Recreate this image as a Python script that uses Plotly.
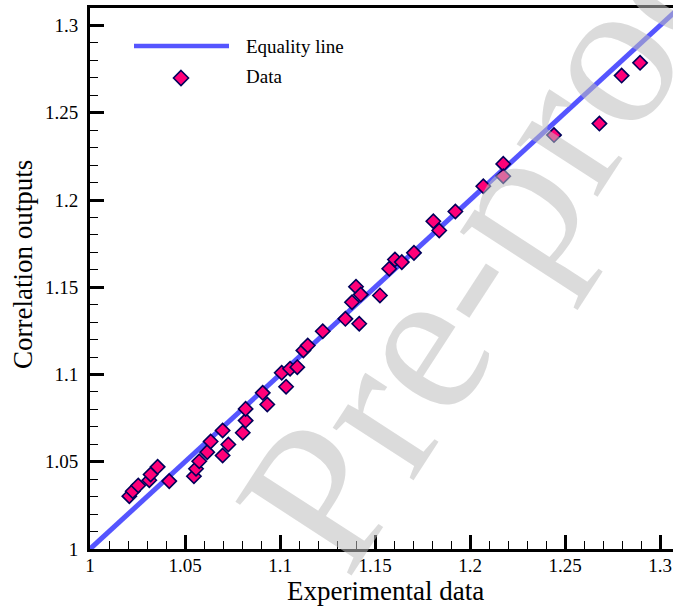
import plotly.graph_objects as go

# ---- data ----
experimental = [1.0207, 1.0225, 1.0254, 1.0312, 1.0319, 1.0356, 1.0417, 1.0547, 1.0558, 1.0575,
                1.0617, 1.0635, 1.0698, 1.0698, 1.0728, 1.0804, 1.0819, 1.0819, 1.0909, 1.0933,
                1.1032, 1.1009, 1.1053, 1.1091, 1.1123, 1.1146, 1.1225, 1.1344, 1.1417, 1.1379,
                1.1400, 1.1425, 1.1526, 1.1575, 1.1605, 1.1641, 1.1705, 1.1807, 1.1838, 1.1923,
                1.2070, 1.2175, 1.2175, 1.2442, 1.2681, 1.2798, 1.2895]
correlation = [1.0303, 1.0331, 1.0364, 1.0394, 1.0427, 1.0471, 1.0389, 1.0417, 1.0460, 1.0503,
               1.0555, 1.0616, 1.0679, 1.0536, 1.0599, 1.0666, 1.0736, 1.0803, 1.0895, 1.0828,
               1.0930, 1.1010, 1.1033, 1.1042, 1.1138, 1.1166, 1.1248, 1.1319, 1.1291, 1.1414,
               1.1503, 1.1458, 1.1453, 1.1606, 1.1659, 1.1644, 1.1697, 1.1878, 1.1825, 1.1934,
               1.2079, 1.2207, 1.2136, 1.2372, 1.2438, 1.2713, 1.2786]
equality_line = [1.0, 1.32]
tick_vals = [1.0, 1.05, 1.1, 1.15, 1.2, 1.25, 1.3]
tick_text = ["1", "1.05", "1.1", "1.15", "1.2", "1.25", "1.3"]

W, H = 673, 607
ML, MR, MT, MB = 90, 0, 8, 58
XR = [1.0, 1.0 + (W - ML - MR) / 1900.0]
YR = [1.0, 1.0 + (H - MT - MB) / 1745.0]

LINE_COLOR = "rgb(85,85,255)"
FILL = "rgb(255,0,120)"
EDGE = "rgb(0,0,90)"
FONT = "Liberation Serif"

fig = go.Figure()
fig.add_trace(go.Scatter(x=equality_line, y=equality_line, mode="lines",
                         line=dict(color=LINE_COLOR, width=5), showlegend=False,
                         hoverinfo="skip"))
fig.add_trace(go.Scatter(x=experimental, y=correlation, mode="markers",
                         marker=dict(symbol="diamond", size=11, color=FILL,
                                     line=dict(color=EDGE, width=1.6)),
                         showlegend=False))

def px2paper_x(px):
    return (px - ML) / (W - ML - MR)

def px2paper_y(py):
    return (H - MB - py) / (H - MT - MB)

axis_common = dict(
    showline=True, linecolor="black", linewidth=3,
    ticks="inside", ticklen=14, tickwidth=2.5, tickcolor="black",
    tickvals=tick_vals, ticktext=tick_text,
    tickfont=dict(family=FONT, size=19, color="black"),
    minor=dict(ticks="inside", ticklen=8, tickwidth=1.3, tickcolor="black", dtick=0.01),
    showgrid=False, zeroline=False, automargin=False,
)

fig.update_layout(
    width=W, height=H,
    margin=dict(l=ML, r=MR, t=MT, b=MB),
    paper_bgcolor="white", plot_bgcolor="white",
    xaxis=dict(range=XR, mirror=True, ticklabelstandoff=-3, **axis_common),
    yaxis=dict(range=YR, mirror=False, ticklabelstandoff=5, **axis_common),
    showlegend=False,
)

# axis titles
fig.add_annotation(x=px2paper_x(385), y=px2paper_y(591), xref="paper", yref="paper",
                   text="Experimental data", showarrow=False, xanchor="center", yanchor="middle",
                   font=dict(family=FONT, size=27, color="black"))
fig.add_annotation(x=px2paper_x(23), y=px2paper_y(265), xref="paper", yref="paper",
                   text="Correlation outputs", showarrow=False, textangle=-90,
                   xanchor="center", yanchor="middle",
                   font=dict(family=FONT, size=27, color="black"))

# manual legend
fig.add_shape(type="line", xref="paper", yref="paper",
              x0=px2paper_x(134), x1=px2paper_x(229), y0=px2paper_y(46), y1=px2paper_y(46),
              line=dict(color=LINE_COLOR, width=4.5))
fig.add_shape(type="path", xref="paper", yref="paper", xsizemode="pixel", ysizemode="pixel",
              xanchor=px2paper_x(181), yanchor=px2paper_y(78),
              path="M0,7.5 L7.5,0 L0,-7.5 L-7.5,0 Z",
              fillcolor=FILL, line=dict(color=EDGE, width=1.6))
fig.add_annotation(x=px2paper_x(244), y=px2paper_y(46), xref="paper", yref="paper",
                   text="Equality line", showarrow=False, xanchor="left", yanchor="middle",
                   font=dict(family=FONT, size=19, color="black"))
fig.add_annotation(x=px2paper_x(244), y=px2paper_y(77), xref="paper", yref="paper",
                   text="Data", showarrow=False, xanchor="left", yanchor="middle",
                   font=dict(family=FONT, size=19, color="black"))

# watermark
fig.add_annotation(x=px2paper_x(507), y=px2paper_y(206), xref="paper", yref="paper",
                   text="Pre-proof", showarrow=False, textangle=-57,
                   xanchor="center", yanchor="middle",
                   font=dict(family=FONT, size=210, color="rgba(190,190,190,0.55)"))

fig.write_html("out.html", config={"displayModeBar": False},
               post_script="document.body.style.margin='0';document.body.style.overflow='hidden';")
